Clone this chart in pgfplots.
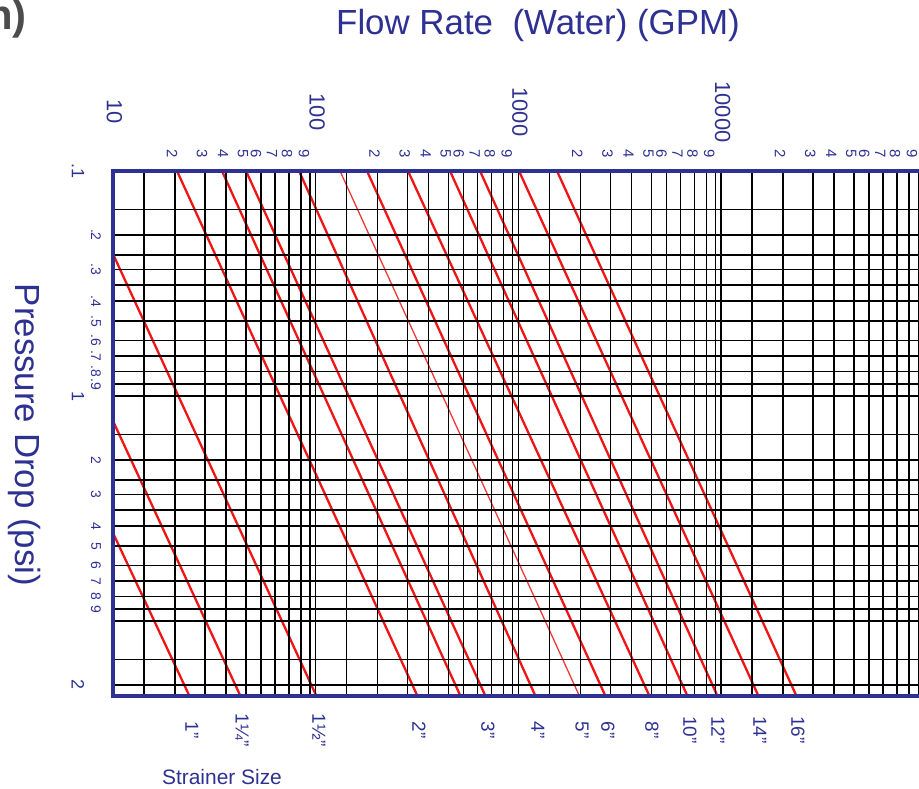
\documentclass[border=0pt]{standalone}
\usepackage{fontspec}
\setmainfont{Liberation Sans}
\usepackage{pgfplots}
\pgfplotsset{compat=1.18}
\definecolor{navy}{RGB}{46,49,146}
\definecolor{lred}{RGB}{240,20,20}
\begin{document}
\begin{tikzpicture}[x=1bp,y=1bp]
\useasboundingbox (0,0) rectangle (919,789);
\clip (0,0) rectangle (919,789);
\begin{axis}[
  at={(113bp,93bp)}, anchor=south west,
  scale only axis, width=810.8bp, height=525bp,
  xmode=log, ymode=log, y dir=reverse,
  xmin=10, xmax=100000, ymin=0.1, ymax=21.54,
  axis on top,
  axis line style={navy, line width=4.5bp},
  major tick length=0pt, minor tick length=0pt,
  xmajorgrids=false, ymajorgrids=false,
  xminorgrids=true, yminorgrids=true,
  minor grid style={black, line width=1.3bp},
  xtick={19.54,27.5,34.9,43.8,50.8,60.9,72.2,87.5,
         195.4,275,349,438,508,609,722,875,
         1954,2750,3490,4380,5080,6090,7220,8750,
         19540,27500,34900,43800,50800,60900,72200,87500},
  xticklabels={2,3,4,5,6,7,8,9,2,3,4,5,6,7,8,9,2,3,4,5,6,7,8,9,2,3,4,5,6,7,8,9},
  minor xtick={14.22,20.23,28.44,36.06,45.29,53.70,62.95,73.79,84.53,93.76,100,
         142.2,202.3,284.4,360.6,452.9,537.0,629.5,737.9,845.3,937.6,1000,
         1422,2023,2844,3606,4529,5370,6295,7379,8453,9376,10000,
         14220,20230,28440,36060,45290,53700,62950,73790,84530,93760},
  xticklabel pos=upper,
  xticklabel style={yshift=17bp, rotate=-90, anchor=center, inner sep=0pt,
                    font=\fontsize{15}{15}\selectfont, text=navy},
  extra x ticks={10,100,1000,10000},
  extra x tick labels={10,100,1000,10000},
  extra x tick style={grid=none, xticklabel style={xshift=-42bp, yshift=1.5bp, font=\fontsize{22}{22}\selectfont}},
  ytick={0.1923,0.2742,0.3784,0.4645,0.5662,0.6637,0.7780,0.8851,
         1.923,2.742,3.784,4.645,5.662,6.637,7.780,8.851},
  yticklabels={.2,.3,.4,.5,.6,.7,.8,.9,2,3,4,5,6,7,8,9},
  minor ytick={0.1483,0.1923,0.2360,0.2742,0.3214,0.3784,0.4645,0.5662,0.6637,0.7780,0.8851,1,
         1.483,1.923,2.360,2.742,3.214,3.784,4.645,5.662,6.637,7.780,8.851,10,
         14.83,19.23},
  yticklabel style={xshift=-17bp, rotate=-90, anchor=center, inner sep=0pt,
                    font=\fontsize{14}{14}\selectfont, text=navy},
  extra y ticks={0.1,1,19.23},
  extra y tick labels={.1,1,2},
  extra y tick style={grid=none, yticklabel style={yshift=-18bp, font=\fontsize{18}{18}\selectfont}},
  no markers,
]
% 1", 1 1/4", 1 1/2" (start on the left edge)
\addplot[lred, line width=2.3bp] coordinates {(10,4.063) (23.71,21.33)};
\addplot[lred, line width=2.3bp] coordinates {(10,1.291) (42.31,21.33)};
\addplot[lred, line width=2.3bp] coordinates {(10,0.2338) (100.3,21.33)};
% lines starting on the top edge
\addplot[lred, line width=2.3bp] coordinates {(20.69,0.1) (316.1,21.33)};   % 2"
\addplot[lred, line width=2.3bp] coordinates {(34.49,0.1) (515.1,21.33)};   % unlabeled
\addplot[lred, line width=2.3bp] coordinates {(45.32,0.1) (684.3,21.33)};   % 3"
\addplot[lred, line width=2.3bp] coordinates {(82.74,0.1) (1207.5,21.33)};  % 4"
\addplot[lred!85, line width=1.3bp] coordinates {(131.8,0.1) (1990,21.33)}; % 5"
\addplot[lred, line width=2.3bp] coordinates {(179.1,0.1) (2674,21.33)};    % 6"
\addplot[lred, line width=2.3bp] coordinates {(285.3,0.1) (4409,21.33)};    % 8"
\addplot[lred, line width=2.3bp] coordinates {(459.8,0.1) (6788,21.33)};    % 10"
\addplot[lred, line width=2.3bp] coordinates {(646.6,0.1) (9546,21.33)};    % 12"
\addplot[lred, line width=2.3bp] coordinates {(1007,0.1) (15210,21.33)};    % 14"
\addplot[lred, line width=2.3bp] coordinates {(1550,0.1) (23420,21.33)};    % 16"
\end{axis}
% titles
\node[anchor=base, text=navy, inner sep=0pt, font=\fontsize{35}{35}\selectfont] at (538,754) {Flow Rate\ \ (Water) (GPM)};
\node[anchor=base, rotate=-90, text=navy, inner sep=0pt, font=\fontsize{35}{35}\selectfont] at (15,354) {Pressure Drop (psi)};
\node[anchor=base, text=navy, inner sep=0pt, font=\fontsize{21}{21}\selectfont] at (222,4) {Strainer Size};
\node[anchor=base east, text=black!70, inner sep=0pt, font=\fontsize{42}{42}\bfseries\selectfont] at (27,759) {n)};
% strainer size labels
\foreach \xx/\lab in {192/{1"},242/{1¼"},319/{1½"},419/{2"},488/{3"},538/{4"},582/{5"},608/{6"},652/{8"},690/{10"},718/{12"},760/{14"},798/{16"}}{
  \node[rotate=-90, anchor=center, inner sep=0pt, text=navy, font=\fontsize{19}{19}\selectfont] at (\xx,59) {\lab};
}
\end{tikzpicture}
\end{document}
